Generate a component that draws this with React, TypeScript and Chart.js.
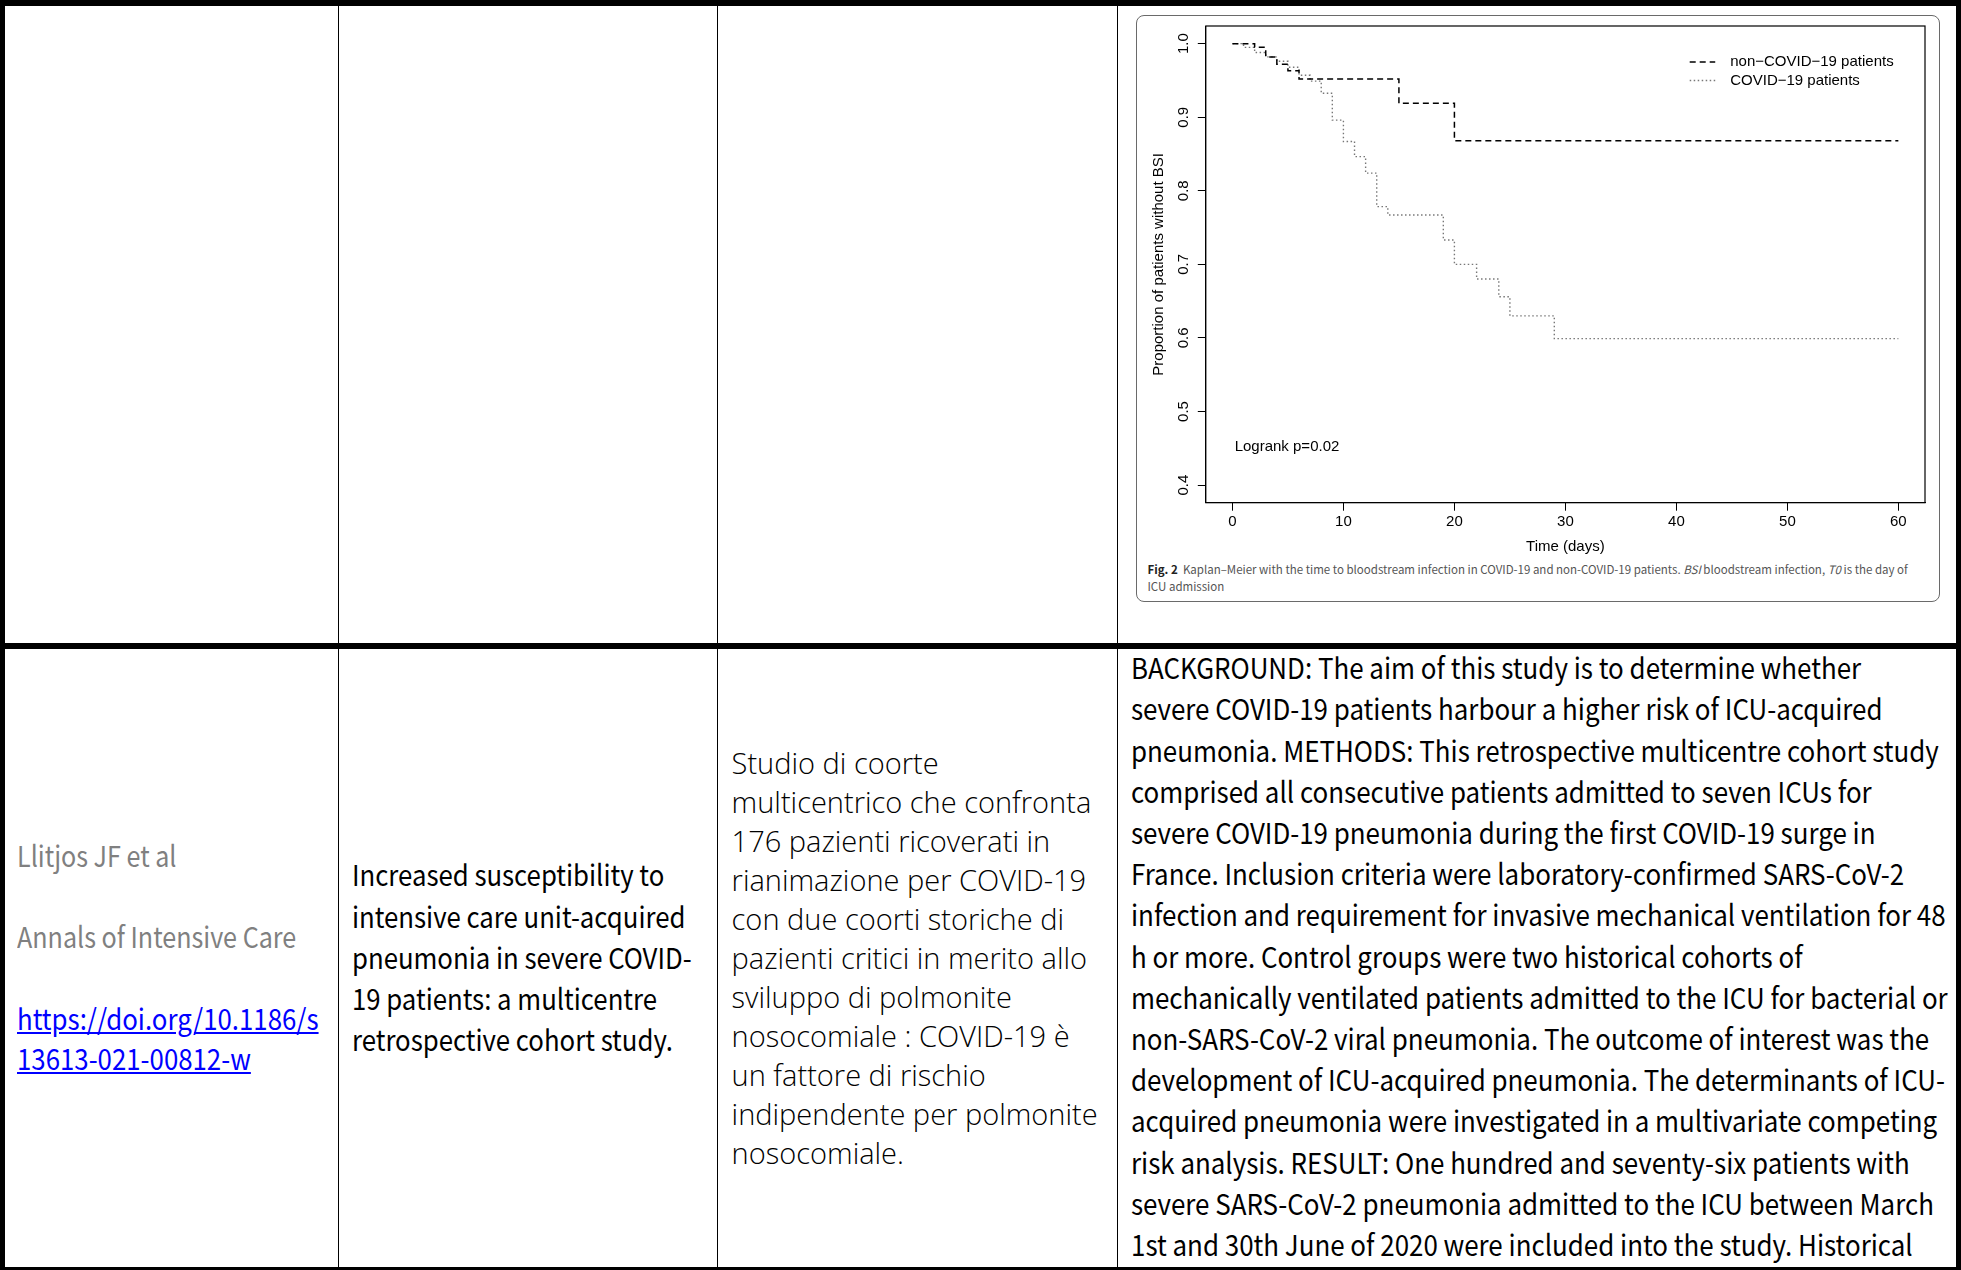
import React, { useEffect, useRef } from "react";
import { Chart, registerables } from "chart.js";

Chart.register(...registerables);

// ---------- chart data ----------
const xTicks = [0, 10, 20, 30, 40, 50, 60];
const yTicks = [0.4, 0.5, 0.6, 0.7, 0.8, 0.9, 1.0];

const nonCovidDays = [0, 2, 3, 4, 5, 6, 15, 20, 60];
const nonCovidSurv = [1.0, 0.995, 0.982, 0.972, 0.963, 0.952, 0.919, 0.868, 0.868];

const covidDays = [0, 1, 2, 3, 4, 5, 6, 7, 8, 9, 10, 11, 12, 13, 14, 19, 20, 22, 24, 25, 29, 60];
const covidSurv = [1.0, 0.995, 0.988, 0.982, 0.976, 0.968, 0.957, 0.949, 0.9325, 0.896, 0.867, 0.8465, 0.824, 0.7785, 0.767, 0.733, 0.7, 0.68, 0.656, 0.63, 0.599, 0.599];

const seriesLabels = ["non\u2212COVID\u221219 patients", "COVID\u221219 patients"];
const xTitle = "Time (days)";
const yTitle = "Proportion of patients without BSI";
const logrankText = "Logrank p=0.02";

// ---------- table text ----------
const col1Lines = ["Llitjos JF et al", "Annals of Intensive Care"];
const col1Link = ["https://doi.org/10.1186/s", "13613-021-00812-w"];
const col2Lines = [
  "Increased susceptibility to",
  "intensive care unit-acquired",
  "pneumonia in severe COVID-",
  "19 patients: a multicentre",
  "retrospective cohort study.",
];
const col3Lines = [
  "Studio di coorte",
  "multicentrico che confronta",
  "176 pazienti ricoverati in",
  "rianimazione per COVID-19",
  "con due coorti storiche di",
  "pazienti critici in merito allo",
  "sviluppo di polmonite",
  "nosocomiale : COVID-19 è",
  "un fattore di rischio",
  "indipendente per polmonite",
  "nosocomiale.",
];
const col4Lines = [
  "BACKGROUND: The aim of this study is to determine whether",
  "severe COVID-19 patients harbour a higher risk of ICU-acquired",
  "pneumonia. METHODS: This retrospective multicentre cohort study",
  "comprised all consecutive patients admitted to seven ICUs for",
  "severe COVID-19 pneumonia during the first COVID-19 surge in",
  "France. Inclusion criteria were laboratory-confirmed SARS-CoV-2",
  "infection and requirement for invasive mechanical ventilation for 48",
  "h or more. Control groups were two historical cohorts of",
  "mechanically ventilated patients admitted to the ICU for bacterial or",
  "non-SARS-CoV-2 viral pneumonia. The outcome of interest was the",
  "development of ICU-acquired pneumonia. The determinants of ICU-",
  "acquired pneumonia were investigated in a multivariate competing",
  "risk analysis. RESULT: One hundred and seventy-six patients with",
  "severe SARS-CoV-2 pneumonia admitted to the ICU between March",
  "1st and 30th June of 2020 were included into the study. Historical",
];

const CAL = "'Noto Sans CJK JP', 'Noto Sans', sans-serif";
const LIGHT = "'Open Sans', 'Noto Sans', sans-serif";
const RFONT = "'Liberation Sans', Arial, Helvetica, sans-serif";

function zeroPad(s: any) {
  s.paddingTop = 0;
  s.paddingBottom = 0;
  s.paddingLeft = 0;
  s.paddingRight = 0;
}

function KMChart() {
  const ref = useRef<HTMLCanvasElement>(null);
  useEffect(() => {
    const canvas = ref.current!;
    const rPlugin = {
      id: "rstyle",
      afterDraw(chart: any) {
        const { ctx, chartArea: a, scales } = chart;
        const xs = scales.x;
        const ys = scales.y;
        ctx.save();
        ctx.strokeStyle = "#000";
        ctx.lineWidth = 1.2;
        ctx.setLineDash([]);
        ctx.strokeRect(a.left, a.top, a.right - a.left, a.bottom - a.top);
        const styles = [
          { color: "#000", dash: [6, 4], w: 1.5 },
          { color: "#777", dash: [1.5, 2.5], w: 1.4 },
        ];
        const rowVals = [0.975, 0.95];
        ctx.font = `15px ${RFONT}`;
        ctx.textBaseline = "middle";
        ctx.textAlign = "left";
        seriesLabels.forEach((lab, i) => {
          const y = ys.getPixelForValue(rowVals[i]);
          ctx.beginPath();
          ctx.strokeStyle = styles[i].color;
          ctx.lineWidth = styles[i].w;
          ctx.setLineDash(styles[i].dash);
          ctx.moveTo(xs.getPixelForValue(41.2), y);
          ctx.lineTo(xs.getPixelForValue(43.5), y);
          ctx.stroke();
          ctx.setLineDash([]);
          ctx.fillStyle = "#000";
          ctx.fillText(lab, xs.getPixelForValue(44.85), y);
        });
        ctx.fillText(logrankText, xs.getPixelForValue(0.2), ys.getPixelForValue(0.452));
        ctx.restore();
      },
    };
    const chart = new Chart(canvas, {
      type: "line",
      data: {
        datasets: [
          {
            label: seriesLabels[0],
            data: nonCovidDays.map((d, i) => ({ x: d, y: nonCovidSurv[i] })),
            borderColor: "#000",
            borderWidth: 1.5,
            borderDash: [6, 4],
            pointRadius: 0,
            stepped: true,
            fill: false,
          },
          {
            label: seriesLabels[1],
            data: covidDays.map((d, i) => ({ x: d, y: covidSurv[i] })),
            borderColor: "#777",
            borderWidth: 1.4,
            borderDash: [1.5, 2.5],
            pointRadius: 0,
            stepped: true,
            fill: false,
          },
        ],
      },
      options: {
        animation: false,
        responsive: false,
        devicePixelRatio: 1,
        layout: { autoPadding: false, padding: { left: 0, top: 6, right: 10, bottom: 0 } },
        plugins: { legend: { display: false }, tooltip: { enabled: false } },
        scales: {
          x: {
            type: "linear",
            min: -2.4,
            max: 62.4,
            afterBuildTicks: (s: any) => {
              s.ticks = xTicks.map((v) => ({ value: v }));
            },
            afterFit: (s: any) => {
              s.height = 57.3;
              zeroPad(s);
            },
            ticks: {
              autoSkip: false,
              maxRotation: 0,
              padding: 2,
              color: "#000",
              font: { family: RFONT, size: 15 },
              callback: (v: any) => String(v),
            },
            grid: { drawOnChartArea: false, drawTicks: true, tickLength: 8, color: "#000", lineWidth: 1 },
            border: { display: true, color: "#000", width: 1 },
            title: {
              display: true,
              text: xTitle,
              color: "#000",
              font: { family: RFONT, size: 15 },
              padding: { top: 0, bottom: 3.7 },
            },
          },
          y: {
            type: "linear",
            min: 0.376,
            max: 1.024,
            afterBuildTicks: (s: any) => {
              s.ticks = yTicks.map((v) => ({ value: v }));
            },
            afterFit: (s: any) => {
              s.width = 65.8;
              zeroPad(s);
            },
            ticks: {
              autoSkip: false,
              minRotation: 90,
              maxRotation: 90,
              crossAlign: "center",
              padding: 3.4,
              color: "#000",
              font: { family: RFONT, size: 15 },
              callback: (v: any) => Number(v).toFixed(1),
            },
            grid: { drawOnChartArea: false, drawTicks: true, tickLength: 8, color: "#000", lineWidth: 1 },
            border: { display: true, color: "#000", width: 1 },
            title: {
              display: true,
              text: yTitle,
              color: "#000",
              font: { family: RFONT, size: 15 },
              padding: { top: 10, bottom: 0 },
            },
          },
        },
      } as any,
      plugins: [rPlugin],
    });
    return () => chart.destroy();
  }, []);
  return (
    <canvas
      ref={ref}
      width={795}
      height={540}
      style={{ position: "absolute", left: 1140, top: 20, width: 795, height: 540 }}
    />
  );
}

function Line({ text, left, cy, lh, size, family, color, weight, underline, sx }: any) {
  return (
    <div
      style={{
        position: "absolute",
        left,
        top: cy - lh / 2 - 1,
        height: lh,
        lineHeight: `${lh}px`,
        fontSize: size,
        fontFamily: family,
        color,
        fontWeight: weight || 400,
        whiteSpace: "nowrap",
        textDecoration: underline ? "underline" : "none",
        transform: `scaleX(${sx || 1})`,
        transformOrigin: "left center",
      }}
    >
      {text}
    </div>
  );
}

function Rect({ l, t, w, h }: any) {
  return <div style={{ position: "absolute", left: l, top: t, width: w, height: h, background: "#000" }} />;
}

export default function App() {
  const col1Y = [855, 936];
  const linkY = [1018.3, 1058.3];
  return (
    <div
      style={{
        position: "fixed",
        left: 0,
        top: 0,
        width: 1961,
        height: 1270,
        background: "#fff",
        overflow: "hidden",
      }}
    >
      {/* table borders */}
      <Rect l={0} t={0} w={1961} h={6} />
      <Rect l={0} t={0} w={4.5} h={1270} />
      <Rect l={1956} t={0} w={5} h={1270} />
      <Rect l={0} t={1267} w={1961} h={3} />
      <Rect l={0} t={643} w={1961} h={6} />
      <Rect l={337.5} t={0} w={1.2} h={1270} />
      <Rect l={716.5} t={0} w={1.2} h={1270} />
      <Rect l={1116.5} t={0} w={1.2} h={1270} />

      {/* figure frame */}
      <div
        style={{
          position: "absolute",
          left: 1136,
          top: 15,
          width: 802,
          height: 585,
          border: "1.5px solid #6a6a6a",
          borderRadius: 8,
        }}
      />
      <KMChart />
      <div
        style={{
          position: "absolute",
          left: 1147.5,
          top: 561,
          fontFamily: CAL,
          fontSize: 11.5,
          lineHeight: "16.7px",
          color: "#555",
          whiteSpace: "nowrap",
        }}
      >
        <b style={{ color: "#222" }}>Fig. 2</b>&nbsp; Kaplan–Meier with the time to bloodstream infection in COVID-19 and
        non-COVID-19 patients. <i>BSI</i> bloodstream infection, <i>T0</i> is the day of
        <br />
        ICU admission
      </div>

      {/* column 1 */}
      {col1Lines.map((t, i) => (
        <Line key={"c1" + i} text={t} left={17} cy={col1Y[i]} lh={41} size={28.7} family={CAL} color="#808080" sx={0.875} />
      ))}
      {col1Link.map((t, i) => (
        <Line key={"l1" + i} text={t} left={17} cy={linkY[i]} lh={41} size={28.7} family={CAL} color="#0000ff" underline sx={0.9} />
      ))}
      {/* column 2 */}
      {col2Lines.map((t, i) => (
        <Line key={"c2" + i} text={t} left={352} cy={875 + i * 41.1} lh={41.1} size={28.7} family={CAL} color="#000" sx={0.897} />
      ))}
      {/* column 3 */}
      {col3Lines.map((t, i) => (
        <Line key={"c3" + i} text={t} left={731.6} cy={763.5 + i * 39.0} lh={39} size={29} family={LIGHT} color="#000" weight={300} />
      ))}
      {/* column 4 */}
      {col4Lines.map((t, i) => (
        <Line key={"c4" + i} text={t} left={1130.5} cy={667.8 + i * 41.2} lh={41.2} size={28.7} family={CAL} color="#000" sx={0.903} />
      ))}
    </div>
  );
}
